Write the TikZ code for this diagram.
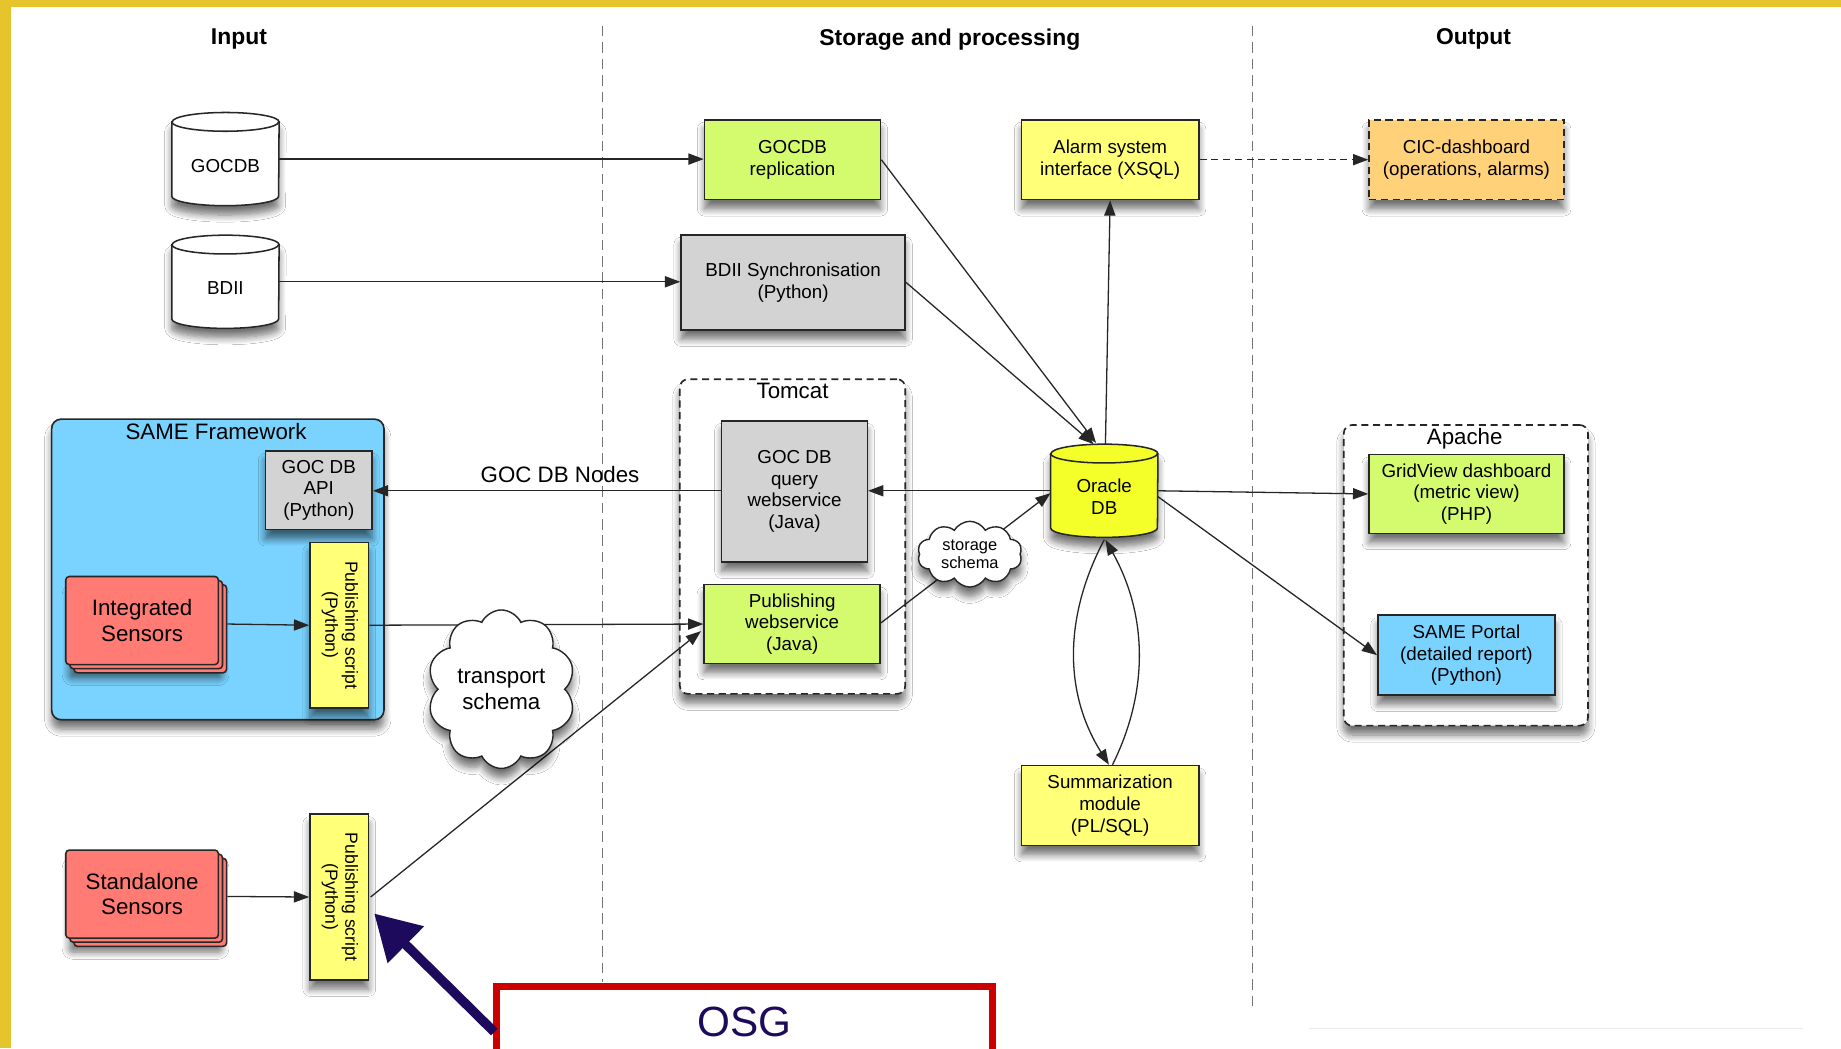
\documentclass[tikz,border=0pt]{standalone}
\usepackage{fontspec}
\setmainfont{Liberation Sans}
\usepackage{graphicx}
\usetikzlibrary{shapes.geometric,shapes.symbols,shadows,shadows.blur,arrows.meta,calc}
\definecolor{bgy}{HTML}{E6C52C}
\definecolor{cgreen}{HTML}{D4FA6E}
\definecolor{cgray}{HTML}{D3D3D3}
\definecolor{cyel}{HTML}{FFFF78}
\definecolor{corange}{HTML}{FFD27A}
\definecolor{cblue}{HTML}{7AD3FF}
\definecolor{cred}{HTML}{FF7B73}
\definecolor{coracle}{HTML}{F4FF2A}
\definecolor{navy}{HTML}{1E0A5C}
\definecolor{osgred}{HTML}{CC0000}
\tikzset{
  shad/.style={blur shadow={shadow xshift=0pt, shadow yshift=-8pt, shadow blur radius=6pt, shadow blur steps=8, shadow opacity=55}},
  bx/.style={rectangle, draw=black!85, line width=1.3pt, align=center, inner sep=1pt, font=\fontsize{16}{18.5}\selectfont, shad},
  cylbox/.style={rectangle, inner sep=0pt, minimum width=91pt, minimum height=79pt},
  cylline/.style={draw=black!85, line width=1.3pt},
  cyltext/.style={align=center, inner sep=0pt, font=\fontsize{16}{18.5}\selectfont},
  cont/.style={rectangle, rounded corners=7pt, draw=black!85, line width=1.4pt, dash pattern=on 6pt off 4pt, fill=white, shad},
  stackbox/.style={rectangle, rounded corners=3pt, draw=black!85, line width=1.3pt, fill=cred, align=center, font=\fontsize{19}{22}\selectfont, minimum width=130pt, minimum height=75pt,
     blur shadow={shadow xshift=3pt, shadow yshift=-12pt, shadow blur radius=6pt, shadow blur steps=8, shadow opacity=55},
     copy shadow={shadow xshift=7pt, shadow yshift=-7pt}, copy shadow={shadow xshift=3.5pt, shadow yshift=-3.5pt}},
  conn/.style={draw=black!85, line width=1.1pt, -{Triangle[length=13pt,width=9.5pt]}},
  sep/.style={draw=black!55, line width=1.1pt, dash pattern=on 9pt off 5pt},
  coltitle/.style={font=\bfseries\fontsize{19.5}{22}\selectfont},
  lbl/.style={font=\fontsize{19}{22}\selectfont, inner sep=0pt},
  cloudy/.style={cloud, cloud ignores aspect, draw=black!85, line width=1.2pt, fill=white, align=center, inner sep=0pt, shad},
  vtxt/.style={bx, fill=cyel, minimum width=50pt, minimum height=141pt, font=\fontsize{15}{17}\selectfont},
}
% cylinder outline around a named node: #1 node name, #2 fill colour
\newcommand\cylshape[2]{%
  \path[cylline, fill=#2, shad] ($(#1.north west)+(0,8)$) -- ($(#1.south west)+(0,-8)$)
     arc[start angle=180, end angle=360, x radius=45.5pt, y radius=8pt]
     -- ($(#1.north east)+(0,8)$)
     arc[start angle=0, end angle=180, x radius=45.5pt, y radius=8pt] -- cycle;
  \draw[cylline] ($(#1.north west)+(0,8)$) arc[start angle=180, end angle=360, x radius=45.5pt, y radius=8pt];
}
\begin{document}
\begin{tikzpicture}[x=1pt,y=-1pt]
\useasboundingbox (0,0) rectangle (1568,893);
\fill[bgy] (0,0) rectangle (1568,893);
\fill[white] (9.5,6) rectangle (1568,893);
\draw[black!8, line width=1pt] (1115,876) -- (1536,876);

% separators
\draw[sep] (513,22) -- (513,836);
\draw[sep] (1067,22) -- (1067,859);

% titles
\node[coltitle] (tin) at (203.5,33.5) {Input};
\node[coltitle] (tsp) at (809,33.5) {Storage and processing};
\node[coltitle] (tout) at (1255,33.5) {Output};

% containers
\node[cont, minimum width=192pt, minimum height=268pt] (tomcat) at (675,457) {};
\node[lbl] (tomcatlbl) at (675,333) {Tomcat};
\node[cont, minimum width=208pt, minimum height=256pt] (apache) at (1248.5,490) {};
\node[lbl] (apachelbl) at (1247.5,373.5) {Apache};
\node[rectangle, rounded corners=8pt, draw=black!85, line width=1.4pt, fill=cblue, shad, minimum width=283pt, minimum height=256pt] (same) at (185.5,485) {};
\node[lbl] (samelbl) at (184,367.5) {SAME Framework};

% input
\node[cylbox] (gocdb) at (192,135.5) {};
\cylshape{gocdb}{white}
\node[cyltext] (gocdbt) at ($(gocdb.center)+(0,6)$) {GOCDB};
\node[cylbox] (bdii) at (192,240) {};
\cylshape{bdii}{white}
\node[cyltext] (bdiit) at ($(bdii.center)+(0,5)$) {BDII};

% storage and processing
\node[bx, fill=cgreen, minimum width=150pt, minimum height=68pt] (grep) at (675,136) {GOCDB\\replication};
\node[bx, fill=cgray, minimum width=191pt, minimum height=81pt] (bsync) at (675.5,240.5) {BDII Synchronisation\\(Python)};
\node[bx, fill=cyel, minimum width=151pt, minimum height=68pt] (alarm) at (945.5,136) {Alarm system\\interface (XSQL)};
\node[bx, fill=cgray, minimum width=124pt, minimum height=120pt] (query) at (676.7,418.6) {GOC DB\\query\\webservice\\(Java)};
\node[bx, fill=cgreen, minimum width=150pt, minimum height=67pt] (pubws) at (674.7,531.5) {Publishing\\webservice\\(Java)};
\node[cylbox] (oracle) at (940.5,418) {};
\cylshape{oracle}{coracle}
\node[cyltext] (oraclet) at ($(oracle.center)+(0,5)$) {Oracle\\DB};
\node[bx, fill=cyel, minimum width=151pt, minimum height=68pt] (summ) at (945.5,686) {Summarization\\module\\(PL/SQL)};

% output
\node[bx, fill=corange, dash pattern=on 6pt off 4pt, minimum width=166pt, minimum height=68pt] (cic) at (1249,136) {CIC-dashboard\\(operations, alarms)};
\node[bx, fill=cgreen, minimum width=166pt, minimum height=67pt] (grid) at (1249,420.7) {GridView dashboard\\(metric view)\\(PHP)};
\node[bx, fill=cblue, minimum width=151pt, minimum height=68pt] (portal) at (1249,558) {SAME Portal\\(detailed report)\\(Python)};

% SAME framework content
\node[bx, fill=cgray, minimum width=91pt, minimum height=67pt] (api) at (271.5,417.5) {GOC DB\\API\\(Python)};
\node[vtxt] (pub1) at (289,532.5) {\rotatebox{-90}{\begin{tabular}{@{}c@{}}Publishing script\\(Python)\end{tabular}}};
\node[stackbox] (isens) at (121,528.5) {Integrated\\Sensors};
\node[stackbox] (ssens) at (121,761.5) {Standalone\\Sensors};
\node[vtxt] (pub2) at (289,764) {\rotatebox{-90}{\begin{tabular}{@{}c@{}}Publishing script\\(Python)\end{tabular}}};

% connectors
\draw[conn] (gocdb.east) -- (gocdb.east -| grep.west);
\draw[conn] (bdii.east) -- (bdii.east -| bsync.west);
\draw[conn] (grep.east) -- ($(oracle.north)+(-7,-1)$);
\draw[conn] (bsync.east) -- ($(oracle.north)+(-9,0)$);
\draw[conn] ($(oracle.north)+(1,0)$) -- (alarm.south);
\draw[conn, dash pattern=on 6pt off 4pt] (alarm.east) -- (cic.west);
\draw[conn] (oracle.west) -- (oracle.west -| query.east);
\draw[conn] (oracle.west -| query.west) -- (oracle.west -| api.east);
\node[lbl] (nodeslbl) at (477,404) {GOC DB Nodes};
\draw[conn] ($(pubws.east)+(0,-1)$) -- ($(oracle.west)+(0,2)$);
\draw[conn] (oracle.east) -- (grid.west);
\draw[conn] ($(oracle.east)+(0,5)$) -- (portal.west);
\draw[conn] ($(oracle.south)+(0,2)$) .. controls (906,525) and (906,590) .. ($(summ.north)+(-1,0)$);
\draw[conn] ($(summ.north)+(2,0)$) .. controls (978,590) and (978,525) .. ($(oracle.south)+(1,2)$);
\draw[conn] ($(isens.east)+(7,3)$) -- (pub1.west);
\draw[conn] (pub1.east) -- (pubws.west);
\draw[conn] ($(ssens.east)+(7,2)$) -- (pub2.west);
\draw[conn] ($(pub2.east)+(1,0)$) -- ($(pubws.west)+(-2,6)$);

% clouds
\node[cloudy, cloud puffs=10, cloud puff arc=130, minimum width=126pt, minimum height=135pt, font=\fontsize{19}{22}\selectfont] (tcloud) at (427,587) {transport\\schema};
\node[cloudy, cloud puffs=10, cloud puff arc=120, minimum width=89pt, minimum height=56pt, font=\fontsize{14}{16}\selectfont] (scloud) at (826,472) {storage\\schema};

% OSG
\node[draw=osgred, line width=6pt, fill=white, minimum width=422pt, minimum height=70pt] (osg) at (634,875) {};
\node[text=navy, font=\fontsize{36}{40}\selectfont, inner sep=0pt] (osgt) at (634,870) {OSG};
\coordinate (osgarrow) at (421,879);
\draw[navy, line width=8pt, -{Triangle[length=38pt,width=42pt]}] (osgarrow) -- ($(pub2.east)+(4,14)$);
\end{tikzpicture}
\end{document}
